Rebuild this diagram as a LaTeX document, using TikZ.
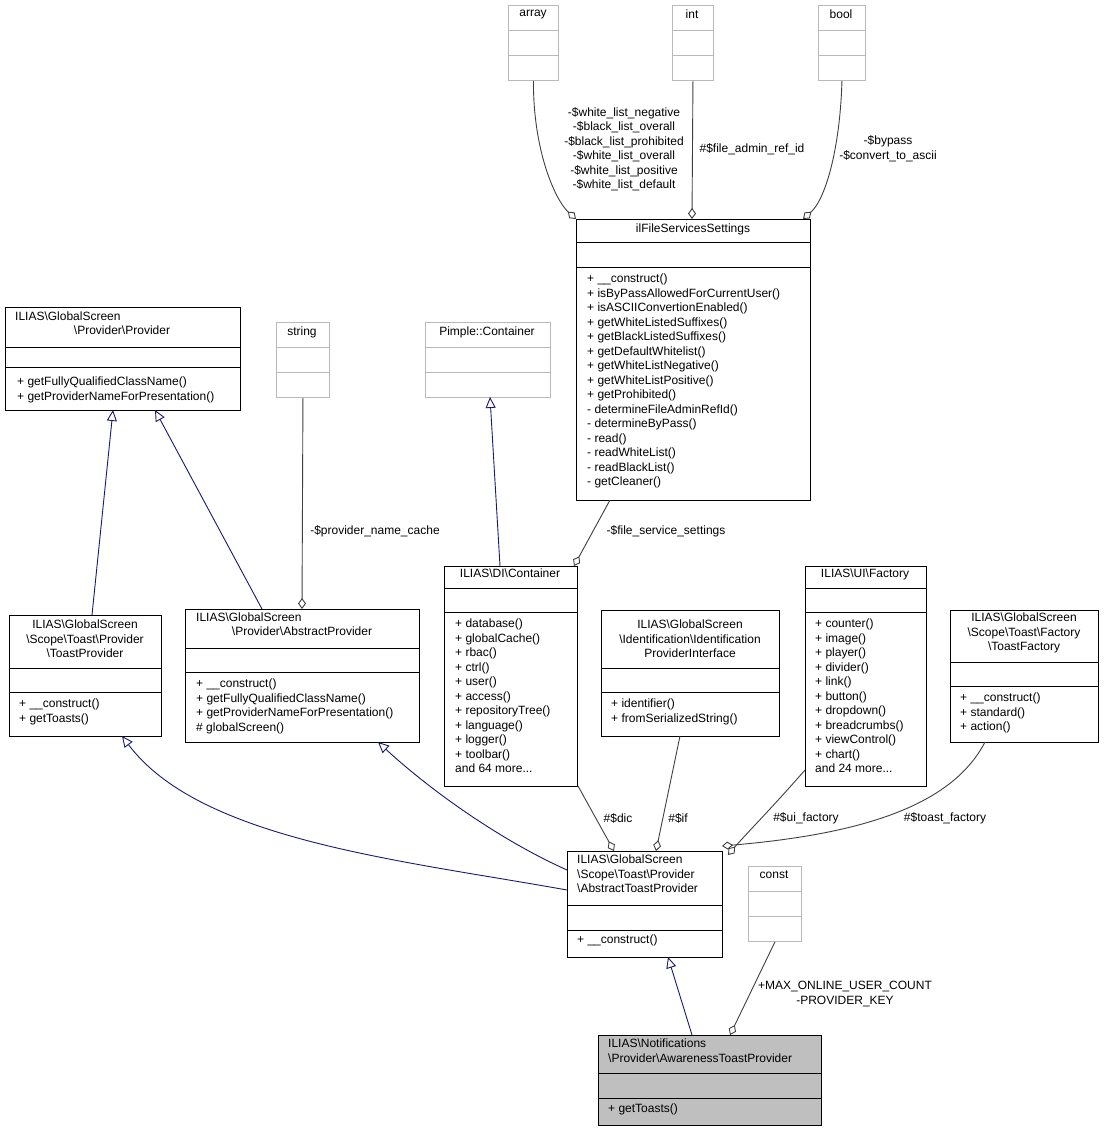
\documentclass[tikz,border=0pt]{standalone}
\usepackage{fontspec}
\setmainfont{Liberation Sans}
\usetikzlibrary{arrows.meta,calc}
\begin{document}
\begin{tikzpicture}[x=1pt,y=-1pt,
  font=\fontsize{12}{14.5}\selectfont,
  box/.style={draw,inner sep=0,line width=0.9pt,fill=white},
  gbox/.style={draw=gray!55},
  tx/.style={inner sep=0,anchor=north west,align=left},
  tt/.style={inner sep=0,anchor=north,align=center},
  lb/.style={inner sep=0,align=center,font=\fontsize{12}{14.5}\selectfont},
  inh/.style={draw={rgb,255:red,25;green,25;blue,112},line width=0.9pt,-{Triangle[open,length=11pt,width=10pt]}},
  agg/.style={draw={rgb,255:red,64;green,64;blue,64},line width=0.9pt,-{Diamond[open,length=11pt,width=8pt]}}]
\newcommand\cls[8]{\node[box,#8,minimum width={(#4-#2)*1pt},minimum height={(#5-#3)*1pt},anchor=north west] (#1) at (#2,#3) {};
  \draw[line width=0.9pt,#8] (#2,#6)--(#4,#6) (#2,#7)--(#4,#7);}
\useasboundingbox (0,0) rectangle (1103,1132);
% gray boxes
\cls{array}{508}{5}{558}{80}{30}{55}{gbox}
\node[tt] at (533,10) {array};
\cls{int}{672}{5}{713}{80}{30}{55}{gbox}
\node[tt] at (692,10) {int};
\cls{bool}{818}{5}{865}{80}{30}{55}{gbox}
\node[tt] at (841,10) {bool};
\cls{string}{276}{322}{329}{397}{347}{372}{gbox}
\node[tt] at (302,327) {string};
\cls{pimple}{425}{322}{550}{397}{347}{372}{gbox}
\node[tt] at (487,327) {Pimple::Container};
\cls{const}{748}{866}{801}{941}{891}{916}{gbox}
\node[tt] at (774,871) {const};
% ilFileServicesSettings
\cls{ilfs}{576}{219}{810}{500}{242}{267}{}
\node[tt] at (693,224) {ilFileServicesSettings};
\node[tx] at (587,274) {+ \_\_construct()\\+ isByPassAllowedForCurrentUser()\\+ isASCIIConvertionEnabled()\\+ getWhiteListedSuffixes()\\+ getBlackListedSuffixes()\\+ getDefaultWhitelist()\\+ getWhiteListNegative()\\+ getWhiteListPositive()\\+ getProhibited()\\- determineFileAdminRefId()\\- determineByPass()\\- read()\\- readWhiteList()\\- readBlackList()\\- getCleaner()};
% Provider
\cls{prov}{5}{307}{240}{410}{347}{367}{}
\node[tx] at (15,312) {ILIAS\textbackslash GlobalScreen};
\node[tt] at (122,326) {\textbackslash Provider\textbackslash Provider};
\node[tx] at (17,377) {+ getFullyQualifiedClassName()\\+ getProviderNameForPresentation()};
% DI Container
\cls{dic}{444}{566}{577}{786}{588}{612}{}
\node[tt] at (510,569) {ILIAS\textbackslash DI\textbackslash Container};
\node[tx] at (455,619) {+ database()\\+ globalCache()\\+ rbac()\\+ ctrl()\\+ user()\\+ access()\\+ repositoryTree()\\+ language()\\+ logger()\\+ toolbar()\\and 64 more...};
% UI Factory
\cls{uif}{805}{566}{926}{786}{588}{612}{}
\node[tt] at (865,569) {ILIAS\textbackslash UI\textbackslash Factory};
\node[tx] at (815,619) {+ counter()\\+ image()\\+ player()\\+ divider()\\+ link()\\+ button()\\+ dropdown()\\+ breadcrumbs()\\+ viewControl()\\+ chart()\\and 24 more...};
% ToastFactory
\cls{tf}{950}{610}{1098}{742}{662}{686}{}
\node[tt] at (1024,613) {ILIAS\textbackslash GlobalScreen\\\textbackslash Scope\textbackslash Toast\textbackslash Factory\\\textbackslash ToastFactory};
\node[tx] at (960,693) {+ \_\_construct()\\+ standard()\\+ action()};
% Identification
\cls{ident}{601}{610}{779}{736}{668}{692}{}
\node[tt] at (690,620) {ILIAS\textbackslash GlobalScreen\\\textbackslash Identification\textbackslash Identification\\ProviderInterface};
\node[tx] at (611,699) {+ identifier()\\+ fromSerializedString()};
% ToastProvider
\cls{tp}{9}{615}{161}{736}{668}{692}{}
\node[tt] at (85,620) {ILIAS\textbackslash GlobalScreen\\\textbackslash Scope\textbackslash Toast\textbackslash Provider\\\textbackslash ToastProvider};
\node[tx] at (19,699) {+ \_\_construct()\\+ getToasts()};
% AbstractProvider
\cls{ap}{185}{609}{419}{742}{648}{672}{}
\node[tx] at (196,613) {ILIAS\textbackslash GlobalScreen};
\node[tt] at (302,627) {\textbackslash Provider\textbackslash AbstractProvider};
\node[tx] at (196,679) {+ \_\_construct()\\+ getFullyQualifiedClassName()\\+ getProviderNameForPresentation()\\\# globalScreen()};
% AbstractToastProvider
\cls{atp}{567}{851}{722}{957}{905}{930}{}
\node[tx] at (577,855) {ILIAS\textbackslash GlobalScreen\\\textbackslash Scope\textbackslash Toast\textbackslash Provider\\\textbackslash AbstractToastProvider};
\node[tx] at (577,935) {+ \_\_construct()};
% Awareness
\cls{aw}{598}{1035}{821}{1125}{1073}{1098}{fill={rgb,255:red,191;green,191;blue,191}}
\node[tx] at (608,1039) {ILIAS\textbackslash Notifications\\\textbackslash Provider\textbackslash AwarenessToastProvider};
\node[tx] at (608,1104) {+ getToasts()};
% edges
\draw[agg] (array.south) .. controls (533,150) and (555,200) .. (576,219);
\node[lb] at (624,149) {-\$white\_list\_negative\\-\$black\_list\_overall\\-\$black\_list\_prohibited\\-\$white\_list\_overall\\-\$white\_list\_positive\\-\$white\_list\_default};
\draw[agg] (int.south) -- (692,219);
\node[lb] at (752,149) {\#\$file\_admin\_ref\_id};
\draw[agg] (bool.south) .. controls (840,150) and (825,200) .. (803,219);
\node[lb] at (888,149) {-\$bypass\\-\$convert\_to\_ascii};
\draw[inh] (92,615) -- (113,410);
\draw[inh] (262,609) -- (155,410);
\draw[agg] (string.south) -- (302,609);
\node[lb] at (375,531) {-\$provider\_name\_cache};
\draw[inh] (500,566) -- (490,397);
\draw[agg] (610,500) -- (574,566);
\node[lb] at (666,531) {-\$file\_service\_settings};
\draw[inh] (567,890) .. controls (400,860) and (200,840) .. (122,736);
\draw[inh] (567,870) .. controls (500,840) and (430,790) .. (378,742);
\draw[agg] (578,786) -- (614,851);
\node[lb] at (618,818) {\#\$dic};
\draw[agg] (680,736) -- (656,851);
\node[lb] at (678,818) {\#\$if};
\draw[agg] (805,770) .. controls (770,810) and (745,835) .. (728,855);
\node[lb] at (806,818) {\#\$ui\_factory};
\draw[agg] (985,742) .. controls (950,810) and (850,835) .. (722,846);
\node[lb] at (945,818) {\#\$toast\_factory};
\draw[inh] (692,1035) -- (668,957);
\draw[agg] (const.south) -- (730,1035);
\node[lb] at (845,994) {+MAX\_ONLINE\_USER\_COUNT\\-PROVIDER\_KEY};
\end{tikzpicture}
\end{document}
